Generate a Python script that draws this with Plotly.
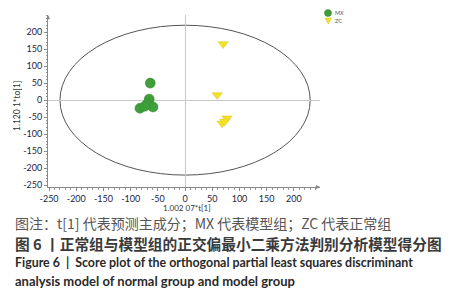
import plotly.graph_objects as go

# Data
mx_x = [-64, -66, -70, -83, -59, -74]
mx_y = [50, 3, -12, -24, -20, -18]
zc_x = [70, 59, 68, 77, 73]
zc_y = [165, 15, -68, -53, -62]
tick_vals = [-250, -200, -150, -100, -50, 0, 50, 100, 150, 200]
ellipse_rx = 230
ellipse_ry = 220
legend_names = ["MX", "ZC"]

W, H = 466, 300
OFF = 8  # page body margin
# target screen positions of the plot area
SL, SR, ST, SB = 48, 320, 15, 187
L, T = SL - OFF, ST - OFF
PW, PH = SR - SL, SB - ST


def px(x):
    """screen pixel x -> paper x"""
    return (x - SL) / PW


def py(y):
    """screen pixel y -> paper y"""
    return (SB - y) / PH


GREEN = "#3f9e3a"
YELLOW = "#f4e228"

fig = go.Figure()
fig.add_trace(go.Scatter(x=mx_x, y=mx_y, mode="markers", name=legend_names[0], showlegend=False,
                         marker=dict(symbol="circle", size=10, color=GREEN,
                                     line=dict(color="#2f8a2f", width=0.5))))
fig.add_trace(go.Scatter(x=zc_x, y=zc_y, mode="markers", name=legend_names[1], showlegend=False,
                         marker=dict(symbol="triangle-down", size=9, color=YELLOW,
                                     line=dict(color="#d8c020", width=0.5))))

fig.add_shape(type="circle", xref="x", yref="y", x0=-ellipse_rx, x1=ellipse_rx,
              y0=-ellipse_ry, y1=ellipse_ry, line=dict(color="#555555", width=1), layer="below")

# legend symbols (paper coordinates)
fig.add_shape(type="circle", xref="paper", yref="paper",
              x0=px(324.5), x1=px(331.5), y0=py(16.5), y1=py(9.5),
              fillcolor=GREEN, line=dict(color="#2f8a2f", width=0.5))
fig.add_shape(type="path", xref="paper", yref="paper",
              path=f"M {px(325)} {py(18)} L {px(331.5)} {py(18)} L {px(328.2)} {py(24)} Z",
              fillcolor=YELLOW, line=dict(color="#d8c020", width=0.5))

axis_common = dict(
    showgrid=False, zeroline=True, zerolinecolor="#c8c8c8", zerolinewidth=1.2,
    showline=True, linecolor="#888888", linewidth=1,
    ticks="outside", ticklen=3, tickcolor="#888888",
    tickvals=tick_vals, ticktext=[str(v) for v in tick_vals],
    tickfont=dict(family="Lato", size=9, color="#1c2440"),
    minor=dict(dtick=10, ticks="outside", ticklen=1.5, tickcolor="#999999"),
)

fig.update_xaxes(range=[-252, 248], **axis_common)
fig.update_yaxes(range=[-255, 250], **axis_common)


def note(x, y, text, size, color, family="Lato", xanchor="left", angle=0, bold=False):
    return dict(x=px(x), y=py(y), xref="paper", yref="paper", showarrow=False,
                xanchor=xanchor, yanchor="middle", textangle=angle,
                text=f"<b>{text}</b>" if bold else text,
                font=dict(family=family, size=size, color=color))


CAP_X = 13

annotations = [
    # axis arrows
    dict(x=248, y=-255, xref="x", yref="y", ax=-6, ay=0, showarrow=True,
         arrowhead=2, arrowsize=0.8, arrowwidth=1, arrowcolor="#888888", text=""),
    dict(x=-252, y=250, xref="x", yref="y", ax=0, ay=6, showarrow=True,
         arrowhead=2, arrowsize=0.8, arrowwidth=1, arrowcolor="#888888", text=""),
    # legend labels
    note(333, 13, legend_names[0], 5.5, "#555555"),
    note(333, 21, legend_names[1], 5.5, "#555555"),
    # axis titles
    note(187, 207.5, "1.002 07*t[1]", 8, "#333333", xanchor="center"),
    note(17, 106, "1.120 1*to[1]", 8.5, "#333333", xanchor="center", angle=-90),
    # captions
    note(CAP_X, 223, "图注：t[1] 代表预测主成分；MX 代表模型组；ZC 代表正常组", 14, "#555555",
         family="Noto Sans CJK SC"),
    note(CAP_X, 243, "图 6 丨正常组与模型组的正交偏最小二乘方法判别分析模型得分图", 14.7, "#3a3a3a",
         family="Noto Sans CJK SC", bold=True),
    note(CAP_X, 263, "Figure 6  |  Score plot of the orthogonal partial least squares discriminant",
         12.4, "#2a2a2a", bold=True),
    note(CAP_X, 281, "analysis model of normal group and model group", 13, "#2a2a2a", bold=True),
]

fig.update_layout(
    width=W, height=H,
    margin=dict(l=L, r=W - L - PW, t=T, b=H - T - PH, autoexpand=False),
    paper_bgcolor="white", plot_bgcolor="white",
    showlegend=False,
    annotations=annotations,
)

fig.write_html("out.html")
